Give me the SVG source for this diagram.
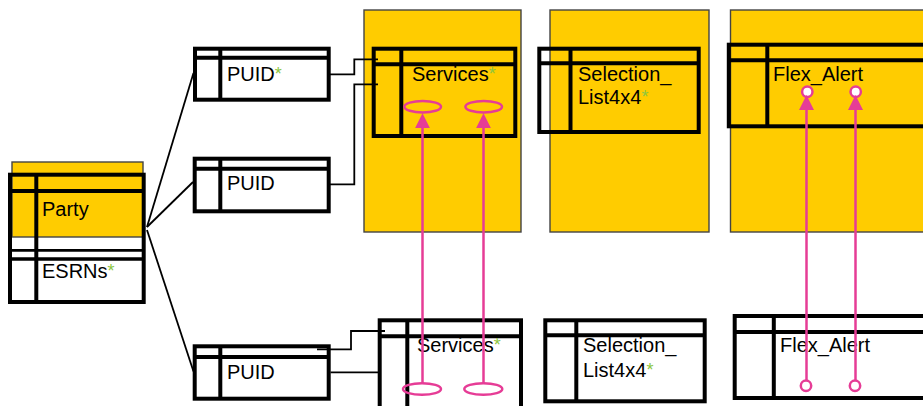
<svg xmlns="http://www.w3.org/2000/svg" width="923" height="406" viewBox="0 0 923 406">
<defs>
<style>
.ent{fill:none;stroke:#000;stroke-width:4}
.entw{fill:#fff;stroke:#000;stroke-width:4}
.dv{stroke:#000;stroke-width:4}
.yel{fill:#FFCC00;stroke:#444;stroke-width:1.4}
.t{font-family:"Liberation Sans",Arial,sans-serif;font-size:20px;fill:#000}
.ast{fill:#8DC63F;font-size:18px}
.conn{fill:none;stroke:#000;stroke-width:1.8}
.pk{fill:none;stroke:#E63C96;stroke-width:2.5}
.pc{fill:#fff;stroke:#E63C96;stroke-width:2.5}
</style>
<marker id="ah" viewBox="0 0 15 15" refX="12" refY="7.5" markerWidth="15" markerHeight="15" markerUnits="userSpaceOnUse" orient="auto">
<path d="M0,0 L15,7.5 L0,15 z" fill="#E63C96"/>
</marker>
</defs>
<rect width="923" height="406" fill="#fff"/>

<g id="party">
<rect class="yel" x="12" y="162" width="131" height="75"/>
<rect class="ent" x="10" y="174.7" width="133.7" height="127.3"/>
<line class="dv" x1="36.3" y1="174.7" x2="36.3" y2="302"/>
<line class="dv" x1="10" y1="191" x2="143.7" y2="191"/>
<line class="dv" x1="10" y1="250.3" x2="143.7" y2="250.3" style="stroke-width:2.7"/>
<line class="dv" x1="10" y1="259" x2="143.7" y2="259" style="stroke-width:3.3"/>
<text class="t" x="42" y="216">Party</text>
<text class="t" x="42" y="278">ESRNs<tspan class="ast" dy="-1">*</tspan></text>
</g>

<g id="puid1">
<rect class="entw" x="195" y="48.7" width="133.7" height="51"/>
<line class="dv" x1="220.3" y1="48.7" x2="220.3" y2="99.7"/>
<line class="dv" x1="195" y1="57.7" x2="328.7" y2="57.7"/>
<text class="t" x="227" y="81">PUID<tspan class="ast" dy="-1">*</tspan></text>
</g>

<g id="puid2">
<rect class="entw" x="194.7" y="158.7" width="134" height="52.6"/>
<line class="dv" x1="220.3" y1="158.7" x2="220.3" y2="211.3"/>
<line class="dv" x1="194.7" y1="168.7" x2="328.7" y2="168.7"/>
<text class="t" x="227" y="190">PUID</text>
</g>

<g id="puid3">
<rect class="entw" x="194.7" y="346.3" width="134" height="52.4"/>
<line class="dv" x1="220.3" y1="346.3" x2="220.3" y2="398.7"/>
<line class="dv" x1="194.7" y1="357" x2="328.7" y2="357"/>
<text class="t" x="227" y="379">PUID</text>
</g>

<g id="services-top">
<rect class="yel" x="364" y="10" width="157" height="222"/>
<rect class="ent" x="373.7" y="48.7" width="141.6" height="87.3"/>
<line class="dv" x1="401.3" y1="48.7" x2="401.3" y2="136"/>
<line class="dv" x1="373.7" y1="64.3" x2="515.3" y2="64.3"/>
<text class="t" x="412" y="81">Services<tspan class="ast" dy="-1">*</tspan></text>
</g>

<g id="selection-top">
<rect class="yel" x="550" y="10" width="159" height="222"/>
<rect class="ent" x="539.3" y="48.7" width="159.4" height="83.3"/>
<line class="dv" x1="570.5" y1="48.7" x2="570.5" y2="132"/>
<line class="dv" x1="539.3" y1="63.3" x2="698.7" y2="63.3"/>
<text class="t" x="578" y="81">Selection_</text>
<text class="t" x="578" y="104">List4x4<tspan class="ast" dy="-1">*</tspan></text>
</g>

<g id="flex-top">
<rect class="yel" x="730.5" y="10" width="200" height="222"/>
<rect class="ent" x="728.8" y="44.7" width="210" height="81.6"/>
<line class="dv" x1="767.3" y1="44.7" x2="767.3" y2="126.3"/>
<line class="dv" x1="728.8" y1="60.3" x2="930" y2="60.3"/>
<text class="t" x="773" y="81">Flex_Alert</text>
</g>

<g id="services-bottom">
<rect class="entw" x="379.7" y="320.3" width="141.3" height="100"/>
<line class="dv" x1="407.3" y1="320.3" x2="407.3" y2="410"/>
<line class="dv" x1="379.7" y1="336.3" x2="521" y2="336.3"/>
<text class="t" x="417" y="352">Services<tspan class="ast" dy="-1">*</tspan></text>
</g>

<g id="selection-bottom">
<rect class="entw" x="545.3" y="320.3" width="159.4" height="81"/>
<line class="dv" x1="576.3" y1="320.3" x2="576.3" y2="401.3"/>
<line class="dv" x1="545.3" y1="335.3" x2="704.7" y2="335.3"/>
<text class="t" x="583" y="352">Selection_</text>
<text class="t" x="583" y="377">List4x4<tspan class="ast" dy="-1">*</tspan></text>
</g>

<g id="flex-bottom">
<rect class="entw" x="734.7" y="316" width="210" height="82"/>
<line class="dv" x1="773.8" y1="316" x2="773.8" y2="398"/>
<line class="dv" x1="734.7" y1="332" x2="930" y2="332"/>
<text class="t" x="780" y="352">Flex_Alert</text>
</g>

<g id="connectors">
<line class="conn" x1="147" y1="227" x2="193.5" y2="73"/>
<line class="conn" x1="147" y1="227" x2="193" y2="182"/>
<line class="conn" x1="147" y1="230" x2="193.5" y2="371.5"/>
<polyline class="conn" points="330,74.3 354.3,74.3 354.3,59.3 378,59.3"/>
<polyline class="conn" points="330,184.3 354.3,184.3 354.3,84.3 378,84.3"/>
<polyline class="conn" points="330.5,372.3 378,372.3"/>
<polyline class="conn" points="317,349.3 351,349.3 351,331 385,331"/>
<ellipse class="pk" cx="422.7" cy="106.7" rx="18.3" ry="5.7"/>
<ellipse class="pk" cx="483.7" cy="106.7" rx="18.3" ry="5.7"/>
<ellipse class="pk" cx="422" cy="389" rx="19" ry="5.8"/>
<ellipse class="pk" cx="483.3" cy="389" rx="19" ry="5.8"/>
<circle class="pc" cx="807.3" cy="91.7" r="5.2"/>
<circle class="pc" cx="855.7" cy="91.7" r="5.2"/>
<circle class="pc" cx="806" cy="385.7" r="5.2"/>
<circle class="pc" cx="855" cy="385.7" r="5.2"/>
<line class="pk" x1="422.5" y1="383.3" x2="422.5" y2="116.3" marker-end="url(#ah)"/>
<line class="pk" x1="483.5" y1="383.3" x2="483.5" y2="116.3" marker-end="url(#ah)"/>
<line class="pk" x1="806.5" y1="380.3" x2="806.5" y2="98" marker-end="url(#ah)"/>
<line class="pk" x1="855.5" y1="380.3" x2="855.5" y2="98" marker-end="url(#ah)"/>
</g>
</svg>
